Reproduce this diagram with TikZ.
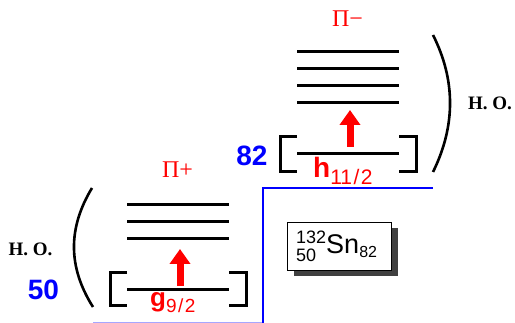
\documentclass[tikz,border=0pt]{standalone}
\usepackage{fontspec}
\setmainfont{Liberation Serif}
\setsansfont{Liberation Sans}
\usetikzlibrary{arrows.meta,shadows}

\begin{document}
\begin{tikzpicture}[x=1pt, y=-1pt, line join=miter,
    level/.style={line width=3pt},
    brack/.style={line width=3pt},
    paren/.style={line width=2.6pt},
    jump/.style={red, line width=7pt, -{Triangle[width=20pt,length=15pt]}},
    closed/.style={blue, line width=2.6pt},
    magic/.style={inner sep=0pt, text=blue, font=\sffamily\bfseries\fontsize{28}{28}\selectfont},
    parity/.style={inner sep=0pt, text=red, font=\fontsize{24}{24}\selectfont},
    osc/.style={inner sep=0pt, font=\bfseries\fontsize{19}{19}\selectfont},
    orb/.style={inner sep=0pt, anchor=base west, text=red, font=\sffamily},
    isotope/.style={draw, line width=1.8pt, fill=white, minimum width=104pt, minimum height=48pt,
      drop shadow={shadow xshift=6pt, shadow yshift=-6pt, fill=black!75, opacity=1}}]
  \useasboundingbox (0,0) rectangle (515,323);
  \begin{scope}[shift={(127,290)}]
    \coordinate (gl) at (0,0);
    \coordinate (gr) at (102,0);
    \draw[level] (gl) -- (gr);
    \foreach \k in {1,2,3} \draw[level] (0,-34-17*\k) -- (102,-34-17*\k);
    \draw[brack] (0,-17) -- (-17,-17) -- (-17,16) -- (0,16);
    \draw[brack] (102,-17) -- (119,-17) -- (119,16) -- (102,16);
    \coordinate (gfrom) at (53,-4);
    \coordinate (gto) at (53,-41);
    \draw[jump] (gfrom) -- (gto);
    \node[orb] (g) at (23,16.5) {{\bfseries\fontsize{26}{26}\selectfont g}{\fontsize{19}{19}\selectfont\raisebox{-6.5pt}{9\kern1.5pt/\kern1.5pt2}}};
    \node[parity] (pplus) at (50.5,-120.5) {Π+};
  \end{scope}
  \begin{scope}[shift={(297,154)}]
    \coordinate (hl) at (0,0);
    \coordinate (hr) at (102,0);
    \draw[level] (hl) -- (hr);
    \foreach \k in {1,2,3,4} \draw[level] (0,-34-17*\k) -- (102,-34-17*\k);
    \draw[brack] (0,-17) -- (-17,-17) -- (-17,18) -- (0,18);
    \draw[brack] (102,-17) -- (119,-17) -- (119,18) -- (102,18);
    \coordinate (hfrom) at (53,-7);
    \coordinate (hto) at (53,-44);
    \draw[jump] (hfrom) -- (hto);
    \node[orb] (h) at (16,24) {{\bfseries\fontsize{28}{28}\selectfont h}{\fontsize{21}{21}\selectfont\raisebox{-7pt}{11\kern1.5pt/\kern1.5pt2}}};
    \node[parity] (pminus) at (50.5,-135.5) {Π−};
  \end{scope}
  \coordinate (lpt) at (92,188);
  \coordinate (lpb) at (93,307);
  \draw[paren] (lpt) .. controls (67.8,228) and (67.8,267) .. (lpb);
  \coordinate (rpt) at (433,35);
  \coordinate (rpb) at (433,172);
  \draw[paren] (rpt) .. controls (455.7,80) and (455.7,126) .. (rpb);
  \node[osc] (hoa) at (30.5,249.5) {H. O.};
  \node[osc] (hob) at (490,103.5) {H. O.};
  \node[magic] (n50) at (43.5,289.5) {50};
  \node[magic] (n82) at (252,156) {82};
  \draw[closed, blue!35] (93,323.6) -- (263,323.6);
  \draw[closed] (263,324) -- (263,188) -- (433,188);
  \node[isotope] (sn) at (339.5,246.5) {};
  \node[inner sep=0pt, anchor=base west, font=\sffamily] (snlab) at (296,254)
    {\raisebox{-8pt}{\fontsize{18}{18}\selectfont\begin{tabular}[b]{@{}l@{}}132\\50\end{tabular}}\fontsize{27}{27}\selectfont Sn\raisebox{-4pt}{\fontsize{16}{16}\selectfont 82}};
\end{tikzpicture}
\end{document}
